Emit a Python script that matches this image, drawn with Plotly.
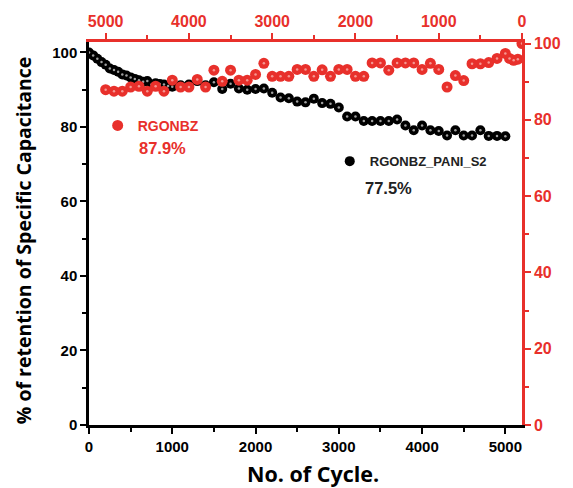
import plotly.graph_objects as go

# Black series: RGONBZ_PANI_S2 (bottom axis / left axis)
pani_cycles = [0, 50, 100, 150, 200, 250, 300, 350, 400, 450, 500, 550, 600, 650, 700, 750,
               800, 850, 900, 950, 1000, 1100, 1200, 1300, 1400, 1500, 1600, 1700, 1800, 1900,
               2000, 2100, 2200, 2300, 2400, 2500, 2600, 2700, 2800, 2900, 3000, 3100, 3200,
               3300, 3400, 3500, 3600, 3700, 3800, 3900, 4000, 4100, 4200, 4300, 4400, 4500,
               4600, 4700, 4800, 4900, 5000]
pani_retention = [100, 99.2, 98.3, 97.4, 96.7, 95.7, 95.3, 94.8, 94.1, 93.8, 93.3, 92.9, 92.5,
                  92.1, 92.3, 91.4, 91.7, 91.5, 91.4, 91.0, 90.8, 91.2, 91.4, 92.3, 91.2, 92.0,
                  90.2, 91.6, 90.3, 90.0, 90.2, 90.3, 89.2, 87.9, 87.7, 86.8, 86.6, 87.6, 86.4,
                  86.2, 85.2, 82.8, 82.8, 81.6, 81.6, 81.6, 81.6, 82.0, 80.4, 79.1, 80.4, 79.1,
                  78.9, 77.7, 79.1, 77.7, 77.7, 79.1, 77.6, 77.6, 77.5]

# Red series: RGONBZ (top reversed axis / right axis)
rgo_cycles = [0, 50, 100, 150, 200, 300, 400, 500, 600, 700, 800, 900, 1000, 1100, 1200, 1300,
              1400, 1500, 1600, 1700, 1800, 1900, 2000, 2100, 2200, 2300, 2400, 2500, 2600,
              2700, 2800, 2900, 3000, 3100, 3200, 3300, 3400, 3500, 3600, 3700, 3800, 3900,
              4000, 4100, 4200, 4300, 4400, 4500, 4600, 4700, 4800, 4900, 5000]
rgo_retention = [100, 95.9, 95.6, 96.1, 97.4, 96.1, 95.0, 94.7, 94.7, 90.3, 91.6, 88.6, 93.2,
                 94.8, 93.2, 94.9, 94.9, 94.9, 93.0, 94.9, 94.9, 91.4, 91.4, 93.2, 93.2, 91.4,
                 93.1, 91.4, 93.2, 93.2, 91.4, 91.4, 91.4, 94.8, 91.9, 90.4, 90.4, 93.0, 90.1,
                 93.0, 88.6, 90.6, 88.6, 88.6, 90.4, 87.5, 88.8, 87.5, 88.8, 88.6, 87.5, 87.5, 87.9]

x_ticks = [0, 1000, 2000, 3000, 4000, 5000]
y_ticks = [0, 20, 40, 60, 80, 100]

RED = "#e8302b"
BLACK = "#000000"
TICKFONT = "Liberation Sans, Arial, sans-serif"

fig = go.Figure()

fig.add_trace(go.Scatter(
    x=rgo_cycles, y=rgo_retention, mode="markers", name="RGONBZ",
    xaxis="x2", yaxis="y2", legend="legend",
    marker=dict(size=11, color=RED, line=dict(width=0)),
))
fig.add_trace(go.Scatter(
    x=rgo_cycles, y=rgo_retention, mode="markers", showlegend=False, hoverinfo="skip",
    xaxis="x2", yaxis="y2",
    marker=dict(size=2.5, color="#f59792", line=dict(width=0)),
))
fig.add_trace(go.Scatter(
    x=pani_cycles, y=pani_retention, mode="markers", name="RGONBZ_PANI_S2",
    xaxis="x", yaxis="y", legend="legend2",
    marker=dict(size=10, color=BLACK, line=dict(width=0)),
))
fig.add_trace(go.Scatter(
    x=pani_cycles, y=pani_retention, mode="markers", showlegend=False, hoverinfo="skip",
    xaxis="x", yaxis="y",
    marker=dict(size=2.5, color="#a0a0a0", line=dict(width=0)),
))

common_tick = dict(ticks="outside", ticklen=6, tickwidth=2, showgrid=False, zeroline=False,
                   showline=True, linewidth=2.5)

fig.update_layout(
    width=573, height=488,
    margin=dict(l=89, r=36, t=42, b=63, pad=0),
    paper_bgcolor="white", plot_bgcolor="white",
    xaxis=dict(range=[0, 5200], tickvals=x_ticks, linecolor=BLACK, tickcolor=BLACK,
               tickfont=dict(family=TICKFONT, size=15, color=BLACK, weight="bold"),
               minor=dict(dtick=500, tick0=0, ticklen=4, tickwidth=2, tickcolor=BLACK, ticks="outside"),
               anchor="y", **common_tick),
    yaxis=dict(range=[0, 102.8], tickvals=y_ticks, linecolor=BLACK, tickcolor=BLACK,
               tickfont=dict(family=TICKFONT, size=15, color=BLACK, weight="bold"),
               minor=dict(dtick=10, tick0=0, ticklen=4, tickwidth=2, tickcolor=BLACK, ticks="outside"),
               anchor="x", **common_tick),
    xaxis2=dict(range=[5200, 0], tickvals=x_ticks, linecolor=RED, tickcolor=RED,
                tickfont=dict(family=TICKFONT, size=16, color=RED, weight="bold"),
                minor=dict(dtick=500, tick0=0, ticklen=4, tickwidth=2, tickcolor=RED, ticks="outside"),
                overlaying="x", side="top", anchor="y", **common_tick),
    yaxis2=dict(range=[0, 100.4], tickvals=y_ticks, linecolor=RED, tickcolor=RED,
                tickfont=dict(family=TICKFONT, size=16, color=RED, weight="bold"),
                minor=dict(dtick=10, tick0=0, ticklen=4, tickwidth=2, tickcolor=RED, ticks="outside"),
                overlaying="y", side="right", anchor="x", **common_tick),
    legend=dict(x=0.02, y=0.823, xanchor="left", yanchor="top", bgcolor="rgba(0,0,0,0)",
                font=dict(family="Liberation Sans, Arial", size=14, color=RED, weight="bold")),
    legend2=dict(x=0.556, y=0.728, xanchor="left", yanchor="top", bgcolor="rgba(0,0,0,0)",
                 font=dict(family="Liberation Sans, Arial", size=13, color="#222222", weight="bold")),
    annotations=[
        dict(text="87.9%", x=(139 - 89) / 448, y=(425 - 148) / 383, xref="paper", yref="paper",
             xanchor="left", yanchor="middle", showarrow=False,
             font=dict(family="Liberation Sans, Arial", size=16.5, color=RED, weight="bold")),
        dict(text="77.5%", x=(373 - 89) / 448, y=(425 - 188) / 383, xref="paper", yref="paper",
             xanchor="left", yanchor="middle", showarrow=False,
             font=dict(family="Liberation Sans, Arial", size=16.5, color="#222222", weight="bold")),
        dict(text="% of retention of Specific Capacitance", x=(22 - 89) / 448, y=(425 - 240) / 383,
             xref="paper", yref="paper", textangle=-90, showarrow=False,
             xanchor="center", yanchor="middle",
             font=dict(family="Open Sans, sans-serif", size=19.5, color=BLACK, weight="bold")),
        dict(text="No. of Cycle.", x=(321 - 89) / 448, y=(425 - 473) / 383,
             xref="paper", yref="paper", showarrow=False, xanchor="center", yanchor="middle",
             font=dict(family="Open Sans, sans-serif", size=21.5, color=BLACK, weight="bold")),
    ],
)

fig.write_html("out.html")
